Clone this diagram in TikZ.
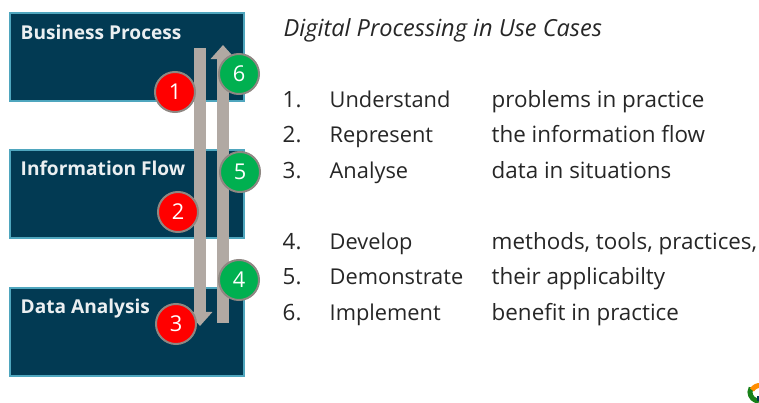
\documentclass[tikz,border=0pt]{standalone}
\usepackage{fontspec}
\setmainfont{Open Sans}
\usetikzlibrary{arrows.meta}
\definecolor{boxblue}{HTML}{023A53}
\definecolor{boxedge}{HTML}{4FA6BE}
\definecolor{arrowgrey}{HTML}{B1A9A3}
\definecolor{stepred}{HTML}{FF0000}
\definecolor{stepgreen}{HTML}{00B050}
\begin{document}
\begin{tikzpicture}
[x=0.01cm,y=-0.01cm,
  layerdecorate/.style={draw=boxedge,fill=boxblue,line width=0.15mm,outer sep=0pt,anchor=north west,minimum width=2.34cm,minimum height=0.88cm,inner sep=0pt},%
  layerlabel/.style={anchor=base west,inner sep=0pt,text=white!92!boxblue,font=\fontsize{5.43}{7}\selectfont\bfseries},%
  arrowdecorate/.style={-{Triangle[width=0.24cm,length=0.14cm]},line width=0.12cm,arrowgrey},%
  reddecorate/.style={shape=circle,draw=arrowgrey!80!black,fill=stepred,line width=0.2mm,minimum size=0.4cm,inner sep=0pt,text=white,font=\fontsize{6.2}{7}\selectfont},%
  greendecorate/.style={reddecorate,fill=stepgreen},%
  listtext/.style={anchor=base west,inner sep=0pt,text=black!85,font=\fontsize{6.37}{7.5}\selectfont},%
  actiontext/.style={listtext,font=\fontsize{6.2}{7.5}\selectfont}]
\useasboundingbox (0,0) rectangle (759,403);
%% layers
\foreach \nodename/\y/\layertext in {process/13/Business Process, flow/150/Information Flow, analysis/288/Data Analysis} {
  \node (\nodename) at (10,\y) [layerdecorate] {};
  \node (\nodename label) at (20,\y+26) [layerlabel] {\layertext};
}
%% block arrows
\coordinate (downtop) at (200,48);
\coordinate (downend) at (200,326);
\coordinate (uptop) at (223,45);
\coordinate (upend) at (223,323);
\draw[arrowdecorate] (downtop) -- (downend);
\draw[arrowdecorate] (upend) -- (uptop);
%% numbered circles
\foreach \nodename/\x/\y in {1/175/92, 2/178/212, 3/176/324} {
  \node (red\nodename) at (\x,\y) [reddecorate] {\nodename};
}
\foreach \nodename/\x/\y in {4/239/280, 5/240/172, 6/239/74} {
  \node (green\nodename) at (\x,\y) [greendecorate] {\nodename};
}
%% text on the right
\node (title) at (283,37) [listtext,font=\fontsize{6.7}{8}\selectfont\itshape] {Digital Processing in Use Cases};
\foreach \nodename/\y/\action/\detail in {1/108/Understand/problems in practice,
  2/143/Represent/the information flow, 3/179/Analyse/data in situations,
  4/250/Develop/{methods, tools, practices,}, 5/285/Demonstrate/their applicabilty,
  6/321/Implement/benefit in practice} {
  \node (number\nodename) at (282,\y) [listtext] {\nodename.};
  \node (action\nodename) at (329,\y) [actiontext] {\action};
  \node (detail\nodename) at (491,\y) [listtext] {\detail};
}
%% corner of the logo
\draw[line width=0.05cm,green!45!black!90] (759,401) arc (270:150:0.09cm);
\draw[line width=0.05cm,orange!90!yellow] (752,390) arc (150:85:0.09cm);
\draw[line width=0.03cm,boxblue] (759,401) -- (759,396);
\end{tikzpicture}
\end{document}
